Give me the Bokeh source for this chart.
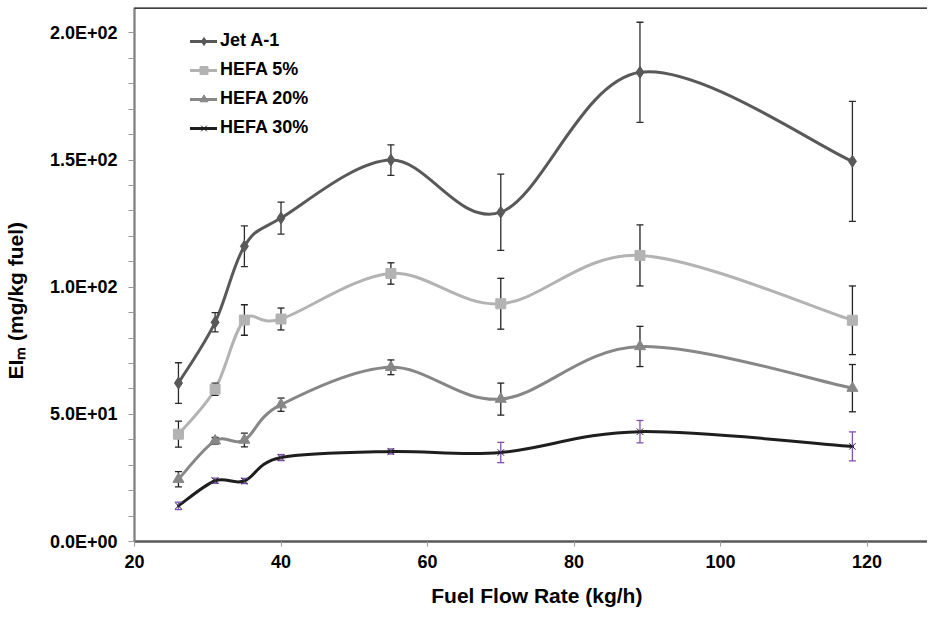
import numpy as np
from bokeh.plotting import figure
from bokeh.models import (ColumnDataSource, FixedTicker, Legend, LegendItem,
                          Span, Range1d)
from bokeh.embed import file_html
from bokeh.resources import INLINE

# ---------------- data ----------------
flow_rate = [26, 31, 35, 40, 55, 70, 89, 118]

jet_a1 = [62.3, 86.2, 116.1, 127.2, 150.0, 129.5, 184.5, 149.5]
jet_a1_err = [8.0, 3.8, 8.0, 6.3, 6.0, 15.0, 19.7, 23.6]

hefa5 = [42.2, 59.9, 87.1, 87.5, 105.4, 93.5, 112.5, 87.0]
hefa5_err = [5.1, 2.4, 6.0, 4.3, 4.2, 10.0, 12.0, 13.5]

hefa20 = [24.5, 39.6, 39.9, 53.8, 68.5, 56.0, 76.7, 60.3]
hefa20_err = [3.0, 1.3, 2.7, 2.6, 2.9, 6.3, 7.9, 9.3]

hefa30 = [14.0, 23.9, 23.8, 33.0, 35.4, 35.0, 43.2, 37.4]
hefa30_err = [1.5, 1.0, 1.0, 1.2, 1.0, 4.0, 4.4, 5.7]

series_names = ["Jet A-1", "HEFA 5%", "HEFA 20%", "HEFA 30%"]

x_ticks = [20, 40, 60, 80, 100, 120]
y_ticks = [0, 50, 100, 150, 200]
y_tick_labels = ["0.0E+00", "5.0E+01", "1.0E+02", "1.5E+02", "2.0E+02"]
y_minor_ticks = [10, 20, 30, 40, 60, 70, 80, 90, 110, 120, 130, 140,
                 160, 170, 180, 190]

x_title = "Fuel Flow Rate (kg/h)"
y_title = "EI\u2098 (mg/kg fuel)"

# ---------------- layout ----------------
W, H = 927, 609
BL, BT, BB, BR = 133, 7, 68, 0
X0, X1 = 20, 128.25
Y0, Y1 = 0, 210
FONT = "Liberation Sans"
NB = "\u00a0"

p = figure(width=W, height=H, x_range=Range1d(X0, X1), y_range=Range1d(Y0, Y1),
           output_backend="svg", toolbar_location=None,
           min_border_left=BL, min_border_top=BT, min_border_bottom=BB,
           min_border_right=BR)
p.xgrid.visible = False
p.ygrid.visible = False
p.outline_line_color = None
p.background_fill_color = "white"
p.border_fill_color = "white"

# axes
xa = p.xaxis[0]
xa.ticker = FixedTicker(ticks=x_ticks)
xa.axis_line_color = "#595959"
xa.axis_line_width = 2.5
xa.major_tick_line_color = "#9a9a9a"
xa.major_tick_line_width = 1
xa.major_tick_out = 5
xa.major_tick_in = 0
xa.minor_tick_out = 0
xa.minor_tick_in = 0
xa.major_label_text_font = FONT
xa.major_label_text_font_style = "bold"
xa.major_label_text_font_size = "18px"
xa.major_label_text_color = "black"
xa.major_label_standoff = 8
xa.axis_label = NB * 2 + x_title
xa.axis_label_text_font = FONT
xa.axis_label_text_font_style = "bold"
xa.axis_label_text_font_size = "21px"
xa.axis_label_text_color = "black"
xa.axis_label_standoff = 13

ya = p.yaxis[0]
ya.ticker = FixedTicker(ticks=y_ticks, minor_ticks=y_minor_ticks)
ya.major_label_overrides = {v: s for v, s in zip(y_ticks, y_tick_labels)}
ya.axis_line_color = "#808080"
ya.axis_line_width = 2.3
ya.major_tick_line_color = "#9a9a9a"
ya.minor_tick_line_color = "#9a9a9a"
ya.major_tick_out = 6
ya.major_tick_in = 0
ya.minor_tick_out = 6
ya.minor_tick_in = 0
ya.major_label_text_font = FONT
ya.major_label_text_font_style = "bold"
ya.major_label_text_font_size = "18px"
ya.major_label_text_color = "black"
ya.major_label_standoff = 11
ya.axis_label = y_title + NB * 9
ya.axis_label_text_font = FONT
ya.axis_label_text_font_style = "bold"
ya.axis_label_text_font_size = "21px"
ya.axis_label_text_color = "black"
ya.axis_label_standoff = 20

# top border line
p.add_layout(Span(location=Y1, dimension="width", line_color="black",
                  line_width=2.5))


def smooth_segments(xs, ys):
    """Bezier segments of an Excel-like smoothed line through the points."""
    n = len(xs)
    P = list(zip(xs, ys))
    d = dict(x0=[], y0=[], x1=[], y1=[], cx0=[], cy0=[], cx1=[], cy1=[])
    for i in range(n - 1):
        pm = P[i - 1] if i > 0 else P[i]
        p0 = P[i]
        p1 = P[i + 1]
        p2 = P[i + 2] if i + 2 < n else P[i + 1]
        d["x0"].append(p0[0]); d["y0"].append(p0[1])
        d["x1"].append(p1[0]); d["y1"].append(p1[1])
        d["cx0"].append(p0[0] + (p1[0] - pm[0]) / 6)
        d["cy0"].append(p0[1] + (p1[1] - pm[1]) / 6)
        d["cx1"].append(p1[0] - (p2[0] - p0[0]) / 6)
        d["cy1"].append(p1[1] - (p2[1] - p0[1]) / 6)
    return ColumnDataSource(d)


series = [
    (jet_a1, jet_a1_err, "#595959", dict(marker="diamond", size=12,
                                         fill_color="#595959", line_color="#595959"), "#2b2b2b"),
    (hefa5, hefa5_err, "#b3b3b3", dict(marker="square", size=10,
                                       fill_color="#b3b3b3", line_color="#b3b3b3"), "#222222"),
    (hefa20, hefa20_err, "#878787", dict(marker="triangle", size=11,
                                         fill_color="#878787", line_color="#878787"), "#222222"),
    (hefa30, hefa30_err, "#1e1e1e", dict(marker="x", size=9, line_width=1,
                                         line_color="#1e1e1e"), "#7d52b3"),
]

items = []
for (vals, errs, col, mk, ecol), name in zip(series, series_names):
    src = smooth_segments(flow_rate, vals)
    r_line = p.bezier(x0="x0", y0="y0", x1="x1", y1="y1", cx0="cx0", cy0="cy0",
                      cx1="cx1", cy1="cy1", source=src, line_color=col,
                      line_width=3, line_cap="round")
    lo = [v - e for v, e in zip(vals, errs)]
    hi = [v + e for v, e in zip(vals, errs)]
    esrc = ColumnDataSource(dict(x=flow_rate, lo=lo, hi=hi))
    p.segment(x0="x", y0="lo", x1="x", y1="hi", source=esrc, line_color=ecol,
              line_width=1.3)
    p.scatter(x="x", y="lo", source=esrc, marker="dash", size=7,
              line_color=ecol, line_width=1.3)
    p.scatter(x="x", y="hi", source=esrc, marker="dash", size=7,
              line_color=ecol, line_width=1.3)
    msrc = ColumnDataSource(dict(x=flow_rate, y=vals))
    r_mark = p.scatter(x="x", y="y", source=msrc, **mk)
    items.append(LegendItem(label=name, renderers=[r_line, r_mark]))

legend = Legend(items=items, location=(56, 403), glyph_width=27, glyph_height=20,
                label_height=20, spacing=8, padding=0, margin=0, label_standoff=3,
                border_line_color=None, background_fill_alpha=0,
                label_text_font=FONT, label_text_font_style="bold",
                label_text_font_size="18px", label_text_color="black")
p.add_layout(legend)

open("out.html", "w").write(file_html(p, INLINE))
